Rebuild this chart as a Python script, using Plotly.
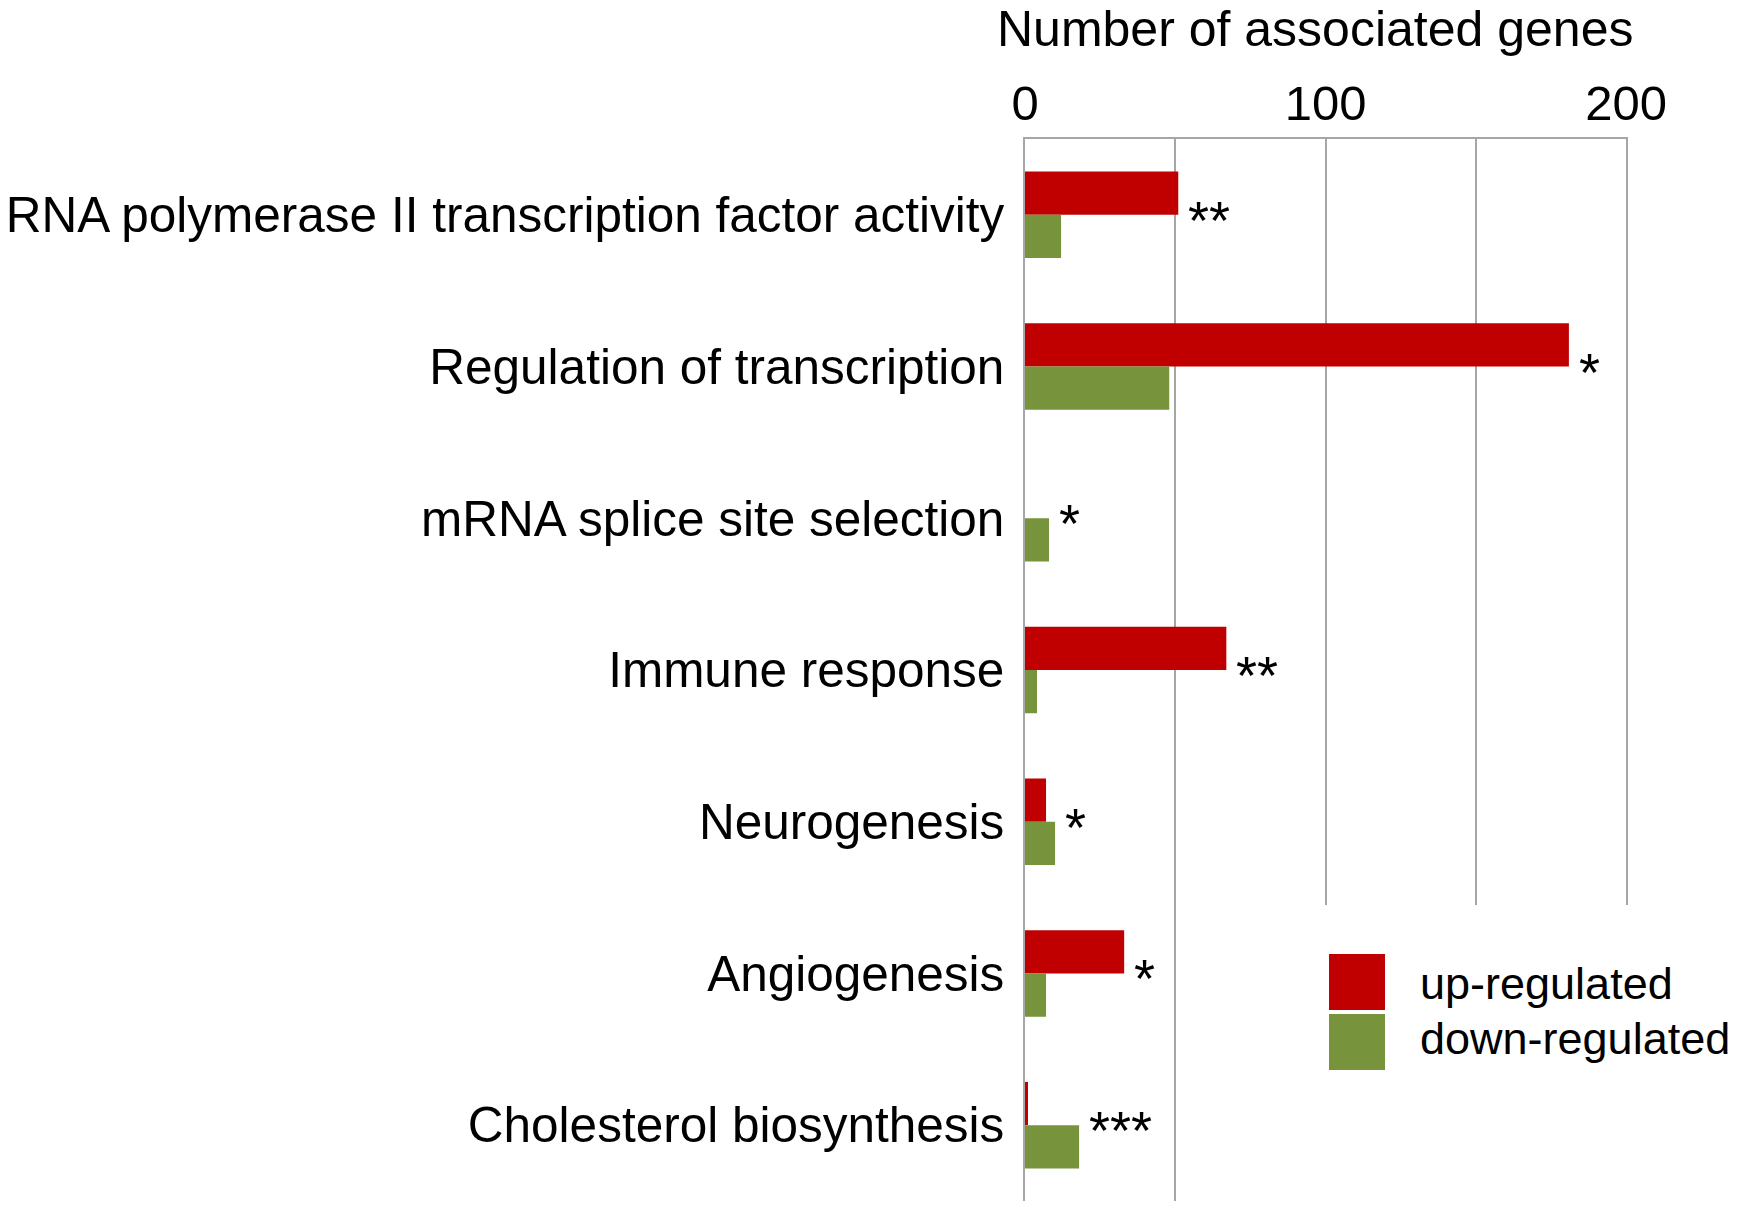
import plotly.graph_objects as go

# ---- data ----
categories = [
    "RNA polymerase II transcription factor activity",
    "Regulation of transcription",
    "mRNA splice site selection",
    "Immune response",
    "Neurogenesis",
    "Angiogenesis",
    "Cholesterol biosynthesis",
]
up_regulated = [51, 181, 0, 67, 7, 33, 1]
down_regulated = [12, 48, 8, 4, 10, 7, 18]
significance = ["**", "*", "*", "**", "*", "*", "***"]
x_tick_values = [0, 50, 100, 150, 200]
x_tick_labels = ["0", "", "100", "", "200"]
series_names = ["up-regulated", "down-regulated"]
axis_title = "Number of associated genes"

# ---- styling ----
RED = "#C00000"
GREEN = "#77933C"
GRID = "#a6a6a6"
FONT = "Arial, Liberation Sans, sans-serif"

W, H = 1737, 1205
L, R, T, B = 1025, 111, 139, 4
PW = W - L - R
PH = H - T - B


def px_x(p):
    return (p - L) / PW


def px_y(p):
    return (H - B - p) / PH


fig = go.Figure()
fig.add_trace(go.Bar(y=categories, x=up_regulated, orientation="h",
                     name=series_names[0], marker=dict(color=RED, line=dict(width=0)),
                     showlegend=False))
fig.add_trace(go.Bar(y=categories, x=down_regulated, orientation="h",
                     name=series_names[1], marker=dict(color=GREEN, line=dict(width=0)),
                     showlegend=False))

annotations = []
for cat, u, d, s in zip(categories, up_regulated, down_regulated, significance):
    annotations.append(dict(x=max(u, d), y=cat, xref="x", yref="y", text=s,
                            showarrow=False, xanchor="left", yanchor="middle",
                            xshift=8, yshift=-5,
                            font=dict(family=FONT, size=54, color="black")))

# axis title
annotations.append(dict(x=px_x(1315), y=px_y(29), xref="paper", yref="paper",
                        text=axis_title, showarrow=False, xanchor="center",
                        yanchor="middle", font=dict(family=FONT, size=50, color="black")))

# manual legend
shapes = [
    dict(type="rect", xref="paper", yref="paper", layer="above",
         x0=px_x(1290), x1=px_x(1737), y0=px_y(905), y1=px_y(1210),
         fillcolor="white", line=dict(width=0)),
    dict(type="rect", xref="paper", yref="paper", layer="above",
         x0=px_x(1329), x1=px_x(1385), y0=px_y(954), y1=px_y(1010),
         fillcolor=RED, line=dict(width=0)),
    dict(type="rect", xref="paper", yref="paper", layer="above",
         x0=px_x(1329), x1=px_x(1385), y0=px_y(1014), y1=px_y(1070),
         fillcolor=GREEN, line=dict(width=0)),
]
for name, ypix in zip(series_names, [983, 1038]):
    annotations.append(dict(x=px_x(1418), y=px_y(ypix), xref="paper", yref="paper",
                            text=name, showarrow=False, xanchor="left", yanchor="middle",
                            font=dict(family=FONT, size=45, color="black")))

fig.update_layout(
    width=W, height=H,
    margin=dict(l=L, r=R, t=T, b=B, pad=0, autoexpand=False),
    paper_bgcolor="white", plot_bgcolor="white",
    barmode="group", bargap=0.43, bargroupgap=0,
    font=dict(family=FONT, color="black"),
    annotations=annotations,
    shapes=shapes,
    showlegend=False,
)
fig.update_xaxes(side="top", range=[0, 200], tickvals=x_tick_values, ticktext=x_tick_labels,
                 showgrid=True, gridcolor=GRID, gridwidth=1.5,
                 showline=True, linecolor=GRID, linewidth=1.5,
                 zeroline=False, ticks="", tickfont=dict(family=FONT, size=49, color="black"),
                 ticklabelstandoff=-2, automargin=False, fixedrange=True)
fig.update_yaxes(type="category", autorange="reversed",
                 showgrid=False, showline=True, mirror=True, linecolor=GRID, linewidth=1.5,
                 zeroline=False, ticks="", tickfont=dict(family=FONT, size=49.5, color="black"),
                 ticklabelstandoff=9, automargin=False, fixedrange=True)

fig.write_html("out.html",
               config={"displayModeBar": False},
               post_script="document.body.style.margin='0px';document.body.style.overflow='hidden';")
